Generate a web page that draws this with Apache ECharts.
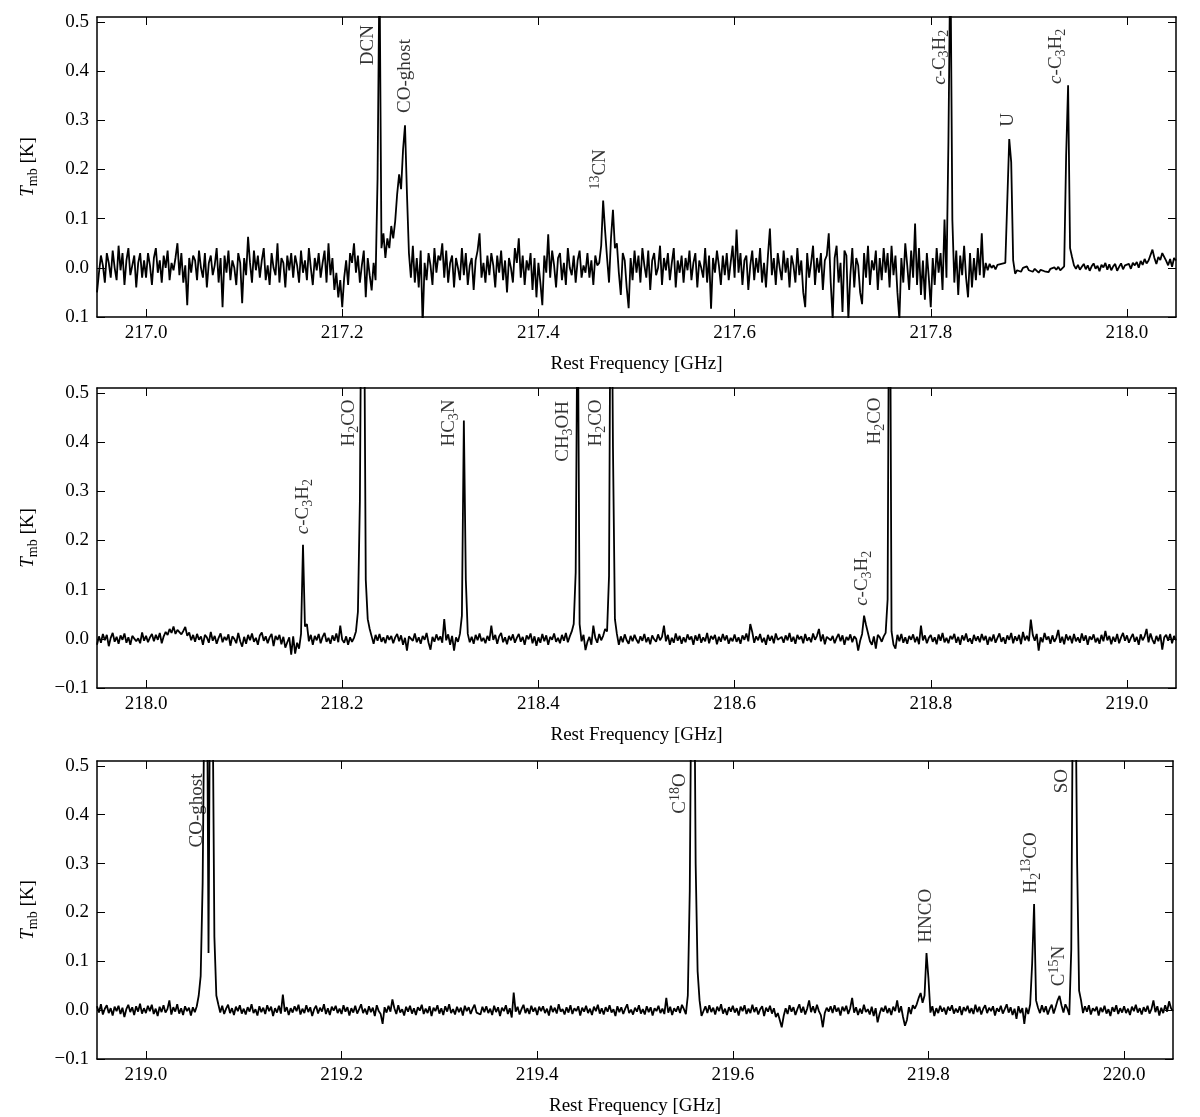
<!DOCTYPE html>
<html><head><meta charset="utf-8">
<script src="https://cdn.jsdelivr.net/npm/echarts@6/dist/echarts.min.js"></script>
<style>html,body{margin:0;padding:0;background:#fff}#c{width:1200px;height:1117px}</style>
</head><body><div id="c"></div>
<script>
const FONT = '"Liberation Serif", "DejaVu Serif", serif';
// channel spacing of the spectra (GHz) and first channel of each panel
const chanStep = 0.002;
const startFreq = [216.95, 217.95, 218.95];
const xRanges = [[216.95, 218.05], [217.95, 219.05], [218.95, 220.05]];
const xTicks = [
  [217.0, 217.2, 217.4, 217.6, 217.8, 218.0],
  [218.0, 218.2, 218.4, 218.6, 218.8, 219.0],
  [219.0, 219.2, 219.4, 219.6, 219.8, 220.0]
];
const yTicks = [-0.1, 0.0, 0.1, 0.2, 0.3, 0.4, 0.5];
const yTickLabelsP1 = ['0.1', '0.0', '0.1', '0.2', '0.3', '0.4', '0.5'];
const yTickLabels = ['\u22120.1', '0.0', '0.1', '0.2', '0.3', '0.4', '0.5'];

// Tmb in mK, one value per channel
const tmb1_mK = [
-50,-10,25,5,-30,30,10,-20,35,0,-25,45,-5,30,-35,15,40,-15,5,25,-40,10,30,-20,15,
-20,30,5,-35,20,40,-10,15,-30,25,0,35,-25,10,-5,20,50,-15,30,-30,5,-76,20,-10,25,
15,-25,35,0,-20,30,-40,10,25,-15,5,40,-30,20,-80,25,-10,35,-25,15,0,-35,30,10,-72,
20,-15,63,10,-30,35,-5,25,-20,15,40,-25,5,-35,30,0,-15,50,-30,20,10,-40,25,-5,30,
-20,25,5,-30,35,-10,15,-25,40,0,-35,20,-5,30,-20,10,35,-30,50,-15,20,-45,-10,-60,-25,
-80,-20,15,-35,30,10,50,-10,25,-30,5,35,-60,20,-15,-46,10,-25,180,620,40,70,20,60,40,
85,60,95,150,190,160,240,290,150,30,-20,45,-30,20,-40,35,-115,10,-25,30,5,-35,40,-10,25,
15,50,-20,35,-30,10,25,-40,20,0,-25,40,-15,30,-35,5,20,-45,15,35,70,-20,10,-30,25,
-15,30,5,-40,25,-10,35,-25,15,-50,20,0,-30,40,10,60,-20,25,-35,15,-5,30,-45,20,-60,
10,-30,-76,25,-10,68,-20,35,5,-40,20,30,-25,10,-35,40,0,-15,25,-30,15,35,-20,5,-10,
30,-20,15,-35,25,5,10,45,137,75,20,-30,60,118,40,50,-10,-55,30,15,-40,-82,20,-25,35,
-10,25,-30,40,5,-20,35,-45,15,30,-15,0,45,-35,20,-5,30,-25,10,40,-40,15,-10,25,-30,
20,-5,35,-25,10,30,-40,15,0,-20,40,-30,25,-83,20,-10,35,5,-35,25,-15,30,-25,10,45,
-20,78,-10,30,-35,15,25,-45,5,35,-25,20,-10,40,-30,10,-40,25,80,-15,20,-35,30,0,-25,
35,-10,20,-40,25,5,-30,40,-15,15,-50,-80,30,-20,10,45,-35,20,-10,30,-45,15,25,70,-30,
-105,20,45,-30,10,-90,35,25,-105,-15,40,-40,20,5,-50,-74,30,-20,45,-35,15,-5,35,-45,20,
-25,40,-10,30,-40,45,-15,25,-50,-105,20,-30,50,5,-45,35,-20,90,-35,40,-55,15,-65,30,-20,
-80,20,-35,40,-10,30,-45,98,-20,257,650,98,-30,35,-55,25,-15,45,-20,-60,30,-40,20,-25,40,
-15,70,-20,10,-5,8,0,5,-3,6,2,8,4,10,14,262,215,15,-12,-5,-2,-8,0,-4,3,
-5,-3,-8,-2,-6,-10,-4,0,-7,-3,-9,-2,-6,1,-4,2,-5,-8,3,228,371,40,22,5,-2,
6,-4,2,8,-3,5,-6,3,9,-2,4,-7,6,1,10,-4,7,-5,3,8,-6,2,9,-3,5,
3,8,-2,10,5,12,0,14,6,18,9,15,15,37,20,8,22,16,30,28,14,5,18,2,20,
15
];
const tmb2_mK = [
-12,5,-8,10,-3,8,-15,2,12,-6,4,-10,7,-2,11,-8,3,-12,6,9,-5,1,-9,13,-4,
6,-7,3,10,-5,8,-2,12,-9,5,14,8,20,12,25,10,18,22,9,16,24,6,13,-3,8,
-6,10,-2,5,-12,8,3,-8,14,-4,6,-10,2,11,-7,4,-3,9,-14,5,0,-9,12,-5,-16,
4,-10,8,-3,11,-6,2,-12,7,13,-4,5,-9,3,10,-15,6,-2,8,-11,4,-18,-7,3,-32,
5,-30,-8,-20,10,191,25,30,-5,8,-12,6,-3,10,-9,4,12,-6,2,-10,7,-4,11,-7,27,
-2,-8,5,-12,3,-6,2,15,55,280,900,820,120,40,20,5,-10,8,-4,10,-6,3,-9,7,-2,
6,-9,3,10,-5,7,-12,2,-24,5,9,-4,11,-7,3,-10,6,-2,12,-8,-22,4,-6,9,-3,
5,-8,40,-3,9,-12,6,-24,3,-6,10,47,444,120,10,-7,4,-10,8,-3,11,-5,2,-9,6,
-4,27,-2,8,-10,5,12,-7,3,-11,6,-3,9,-8,2,10,-6,4,-12,7,-1,11,-9,5,-14,
3,-8,10,-5,7,-12,4,-2,11,-6,2,-9,8,-4,12,-7,5,15,30,135,750,30,-5,8,-23,
-6,4,-12,27,2,-8,10,-3,6,20,15,128,950,390,40,10,-12,5,-7,9,-3,-10,6,-5,8,
-2,-9,5,-4,10,-7,3,-11,7,-1,-6,9,-3,4,27,-5,8,-12,2,-8,11,-4,6,-10,3,
-7,9,-2,5,-12,7,-4,10,-8,3,-5,12,-9,6,-1,8,-11,4,-6,10,-3,7,-10,2,-5,
9,-6,3,-10,7,-2,11,-5,30,14,-8,5,-3,10,-7,2,-12,8,-4,6,-9,11,-2,-6,4,
-8,7,-3,12,-6,4,-10,8,-1,5,-9,10,-4,3,-7,11,-2,6,20,-5,9,-11,4,8,-3,
6,-9,2,10,-5,7,-12,4,-3,9,-7,5,0,-24,-4,10,47,28,30,-5,-12,5,-20,8,3,
-6,5,12,80,1000,15,-12,-20,8,-5,10,-8,3,-10,6,-2,9,-7,4,-11,27,-3,7,-9,2,
8,-6,3,-11,9,-4,12,-7,2,-9,6,-1,10,-8,4,-12,7,-3,11,-6,1,-10,8,-4,5,
-7,10,-3,6,-12,4,-5,9,-8,2,11,-6,3,-10,7,-2,12,-9,5,-4,8,-11,14,-3,6,
-5,39,8,-4,10,-24,3,-7,12,-2,5,-10,7,-6,2,18,-8,4,-11,9,-3,6,-9,10,-5,
3,-8,11,-4,7,-12,5,-2,9,-7,2,-10,8,-5,16,-3,6,-11,4,-6,10,-9,3,12,-4,
7,-8,2,10,-6,4,-12,9,-3,5,20,-7,11,-2,-10,6,-5,9,-22,3,8,-4,10,-9,6,
-3
];
const tmb3_mK = [
8,-5,12,-9,3,10,-6,4,-11,7,-2,9,-8,5,-14,2,11,-4,6,-10,8,-3,13,-7,4,
-6,9,-2,11,-8,3,-12,7,-4,10,-5,2,20,-9,6,-3,12,-7,4,-10,8,-2,5,-11,6,
-4,8,30,70,260,700,900,117,850,700,150,30,12,-5,9,-8,3,11,-6,4,-10,7,-2,10,-7,
3,-9,6,-3,12,-6,2,-11,8,-4,5,-8,10,-2,7,-12,4,-5,9,-7,32,-3,6,-10,4,
-5,8,-2,11,-9,3,-6,10,-4,6,-12,2,9,-7,5,-3,12,-8,4,-10,7,-1,9,-6,3,
-8,10,-3,6,-11,4,-5,9,-7,2,12,-6,3,-9,8,-4,5,-12,10,-2,-8,-28,6,-5,9,
-3,22,4,-8,10,-5,2,-11,7,-3,9,-7,4,-10,6,-1,11,-8,3,-6,8,-12,5,-2,10,
-7,4,-10,8,-3,12,-6,2,-9,7,-4,5,-11,9,-2,6,-8,3,11,-5,-1,-9,7,-4,8,
-6,3,-10,9,-4,6,-12,5,-2,10,-8,4,-15,36,-3,7,-9,2,11,-6,4,-8,9,-3,5,
-10,7,-2,8,-6,3,-11,9,-4,5,-7,12,-3,2,-9,6,-5,10,-8,4,-2,8,-11,5,-3,
9,-6,3,-10,7,-2,11,-7,4,-9,6,-3,10,-5,2,-12,8,-4,6,-8,3,12,-6,1,-9,
5,-3,10,-7,2,-9,8,-4,6,-11,4,-2,9,-6,3,-8,25,-5,7,-10,4,-3,8,-6,11,
2,-8,30,245,800,900,300,80,20,-12,-15,8,-6,10,-4,5,-9,7,-2,12,-7,3,-10,6,-3,
9,-5,4,-11,7,-2,10,-8,3,-6,11,-4,6,-9,2,8,-12,5,-3,9,-7,4,-14,-6,-20,
-35,-12,4,-8,10,-3,6,-10,2,12,-5,7,-9,3,20,-4,8,-6,11,-2,-10,-35,-6,5,-3,
8,-6,10,-3,5,-11,7,-2,9,-8,4,25,-5,6,-10,3,-7,11,-4,2,-9,7,-12,4,-25,
-8,5,-3,9,-6,4,-10,7,-2,20,-5,8,-14,-32,-20,6,-8,10,3,12,25,35,15,30,117,
65,-5,8,-12,4,-6,9,-3,5,-9,7,-1,10,-7,3,-5,8,-10,6,-2,9,-6,4,-8,11,
-4,7,-9,3,10,-6,5,-2,8,-11,4,-3,9,-7,2,12,-5,6,-10,3,-18,8,-6,4,-28,
5,-8,12,95,217,20,5,-6,10,-4,8,-9,3,11,-7,6,20,29,10,-5,12,3,-10,124,800,
750,300,40,20,-6,8,-3,10,-9,4,-2,7,-11,5,-4,9,-7,2,-12,6,-3,10,-8,4,-5,
8,-6,3,-10,7,-2,11,-5,4,-9,6,-3,9,-7,2,20,-4,8,-11,5,-6,10,-3,18,4,
-2
];

// line identifications: label text, frequency (GHz), Tmb where the label starts (K)
const lineNames1 = ['DCN', 'CO-ghost', '{sup|13}CN', '{it|c}-C{sub|3}H{sub|2}', 'U', '{it|c}-C{sub|3}H{sub|2}'];
const lineFreqs1 = [217.2265, 217.2643, 217.4633, 217.809, 217.8786, 217.9276];
const lineLabelTmb1 = [0.412, 0.315, 0.159, 0.372, 0.287, 0.374];
const lineNames2 = ['{it|c}-C{sub|3}H{sub|2}', 'H{sub|2}CO', 'HC{sub|3}N', 'CH{sub|3}OH', 'H{sub|2}CO', '{it|c}-C{sub|3}H{sub|2}', 'H{sub|2}CO'];
const lineFreqs2 = [218.160, 218.2068, 218.3089, 218.4252, 218.4589, 218.7303, 218.7436];
const lineLabelTmb2 = [0.2126, 0.391, 0.391, 0.360, 0.391, 0.067, 0.395];
const lineNames3 = ['CO-ghost', 'C{sup|18}O', 'HNCO', 'H{sub|2}{sup|13}CO', 'C{sup|15}N', 'SO'];
const lineFreqs3 = [219.0526, 219.5462, 219.7976, 219.9049, 219.9335, 219.9366];
const lineLabelTmb3 = [0.333, 0.402, 0.138, 0.239, 0.049, 0.444];

const spectra = [tmb1_mK, tmb2_mK, tmb3_mK];
const labelSets = [
  [lineNames1, lineFreqs1, lineLabelTmb1],
  [lineNames2, lineFreqs2, lineLabelTmb2],
  [lineNames3, lineFreqs3, lineLabelTmb3]
];

const grids = [
  {left: 97, right: 24, top: 17, height: 300},
  {left: 97, right: 24, top: 388, height: 300},
  {left: 97, right: 27, top: 761, height: 300}
];

const FS = 19;
const rich = {
  it: {fontFamily: FONT, fontSize: FS, fontStyle: 'italic', color: '#000'},
  sub: {fontFamily: FONT, fontSize: 14, verticalAlign: 'bottom', color: '#000'},
  sup: {fontFamily: FONT, fontSize: 14, verticalAlign: 'top', color: '#000'}
};

const xAxes = [], yAxes = [], series = [];
for (let p = 0; p < 3; p++) {
  const tickLabels = p === 0 ? yTickLabelsP1 : yTickLabels;
  const common = {
    gridIndex: p, type: 'value', splitLine: {show: false},
    axisLine: {show: true, onZero: false, lineStyle: {color: '#000', width: 1.5}}
  };
  xAxes.push(Object.assign({}, common, {
    position: 'bottom', min: xRanges[p][0], max: xRanges[p][1],
    axisTick: {show: true, inside: true, length: 8, customValues: xTicks[p], lineStyle: {color: '#000', width: 1}},
    axisLabel: {show: true, customValues: xTicks[p], margin: 7, color: '#000', fontFamily: FONT, fontSize: FS,
      formatter: v => Number(v).toFixed(1)},
    name: 'Rest Frequency [GHz]', nameLocation: 'middle', nameGap: 38,
    nameTextStyle: {color: '#000', fontFamily: FONT, fontSize: FS}
  }));
  xAxes.push(Object.assign({}, common, {
    position: 'top', min: xRanges[p][0], max: xRanges[p][1],
    axisTick: {show: true, inside: true, length: 8, customValues: xTicks[p], lineStyle: {color: '#000', width: 1}},
    axisLabel: {show: false}
  }));
  yAxes.push(Object.assign({}, common, {
    position: 'left', min: -0.1, max: 0.51,
    axisTick: {show: true, inside: true, length: 8, customValues: yTicks, lineStyle: {color: '#000', width: 1}},
    axisLabel: {show: true, customValues: yTicks, margin: 8, color: '#000', fontFamily: FONT, fontSize: FS,
      formatter: v => {
        const k = yTicks.findIndex(t => Math.abs(t - v) < 1e-6);
        return k >= 0 ? tickLabels[k] : '';
      }},
    name: '{it|T}{sub|mb} [K]', nameLocation: 'middle', nameGap: 57, nameRotate: 90,
    nameTextStyle: {color: '#000', fontFamily: FONT, fontSize: FS, lineHeight: 24, rich: rich}
  }));
  yAxes.push(Object.assign({}, common, {
    position: 'right', min: -0.1, max: 0.51,
    axisTick: {show: true, inside: true, length: 8, customValues: yTicks, lineStyle: {color: '#000', width: 1}},
    axisLabel: {show: false}
  }));

  const vals = spectra[p];
  const data = vals.map((v, i) => [Math.round((startFreq[p] + i * chanStep) * 1e6) / 1e6, v / 1000]);
  series.push({
    type: 'line', xAxisIndex: 2 * p, yAxisIndex: 2 * p, data: data,
    symbol: 'none', clip: true, silent: true,
    lineStyle: {color: '#000', width: 1.8}
  });

  const [names, freqs, tmbs] = labelSets[p];
  series.push({
    type: 'scatter', xAxisIndex: 2 * p, yAxisIndex: 2 * p, silent: true,
    symbolSize: 1, itemStyle: {color: 'rgba(0,0,0,0)'},
    data: freqs.map((f, k) => ({value: [f, tmbs[k]], name: names[k]})),
    label: {
      show: true, formatter: prm => prm.name, position: 'inside', rotate: 90,
      align: 'left', verticalAlign: 'middle',
      color: '#000', fontFamily: FONT, fontSize: FS, lineHeight: 24, rich: rich
    }
  });
}

const chart = echarts.init(document.getElementById('c'), null, {renderer: 'canvas'});
chart.setOption({
  animation: false,
  backgroundColor: '#fff',
  grid: grids,
  xAxis: xAxes,
  yAxis: yAxes,
  series: series
});
</script>
</body></html>
